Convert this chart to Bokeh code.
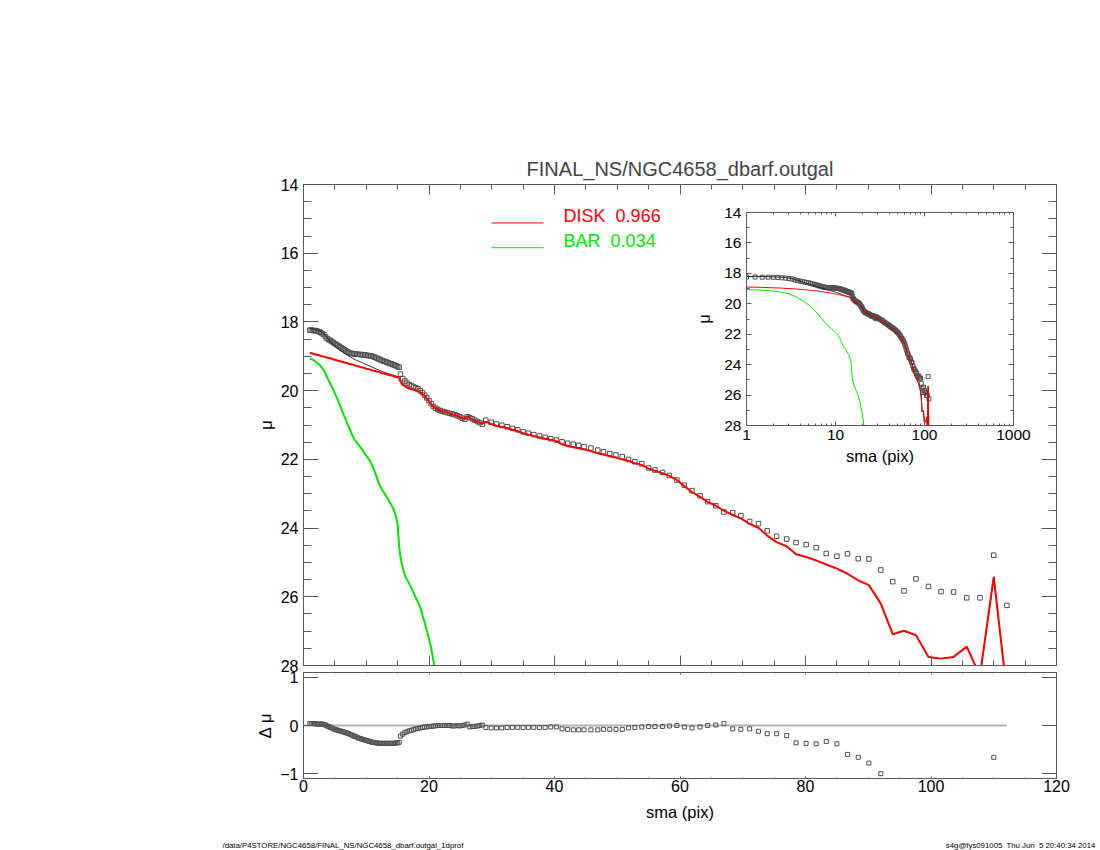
from bokeh.plotting import figure
from bokeh.models import (Range1d, LinearAxis, LogAxis, SingleIntervalTicker, FixedTicker,
                          LogTicker, PrintfTickFormatter, Label)
from bokeh.embed import file_html
from bokeh.resources import INLINE

# ---------------- data ----------------
NB = "\u00a0"  # keeps the double spacing of the original labels visible
TITLE = "FINAL_NS/NGC4658_dbarf.outgal"
FOOT_LEFT = "/data/P4STORE/NGC4658/FINAL_NS/NGC4658_dbarf.outgal_1dprof"
FOOT_RIGHT = "s4g@fys091005" + NB + " Thu Jun" + NB + " 5 20:40:34 2014"
DISK_LABEL = "DISK" + NB + " 0.966"
BAR_LABEL = "BAR" + NB + " 0.034"

sma_inner = [1.00, 1.25, 1.50, 1.75, 2.00, 2.25, 2.50, 2.75, 3.00, 3.25,
             3.50, 3.75, 4.00, 4.25, 4.50, 4.75, 5.00, 5.25, 5.50, 5.75,
             6.00, 6.25, 6.50, 6.75, 7.00, 7.25, 7.50, 7.75, 8.00, 8.25,
             8.50, 8.75, 9.00, 9.25, 9.50, 9.75, 10.00, 10.25, 10.50, 10.75,
             11.00, 11.25, 11.50, 11.75, 12.00, 12.25, 12.50, 12.75, 13.00, 13.25,
             13.50, 13.75, 14.00, 14.25, 14.50, 14.75, 15.00, 15.25]
sma_mid = [15.45, 15.80, 16.15, 16.50, 16.85, 17.20, 17.55, 17.90, 18.25, 18.60,
           18.95, 19.30, 19.65, 20.00, 20.35, 20.70, 21.05, 21.40,
           21.75, 22.10, 22.50, 22.90, 23.30, 23.70, 24.10, 24.50, 24.90, 25.30,
           25.70, 26.10, 26.50, 26.90, 27.30, 27.70, 28.10, 28.50]
sma_outer = [29.05, 29.90, 30.75, 31.60, 32.45, 33.30, 34.15, 35.00, 35.85, 36.70,
             37.60, 38.50, 39.40, 40.30, 41.20, 42.10, 43.00, 43.85,
             44.7, 45.8, 46.9, 47.8, 48.8, 49.8, 50.8, 51.8, 52.8, 53.9,
             55.0, 56.0, 57.2, 58.3, 59.5, 60.7, 61.9, 63.2, 64.4, 65.7,
             67.0, 68.4, 69.7, 71.1, 72.5, 73.9, 75.4, 77.0, 78.5, 80.1,
             81.7, 83.3, 85.0, 86.7, 88.4, 90.1, 92.0, 93.9, 95.7, 97.6,
             99.6, 101.6, 103.6, 105.7, 107.8, 110.0, 112.1]

mu_data = [18.24, 18.24, 18.25, 18.25, 18.26, 18.27, 18.29, 18.31, 18.34, 18.37,
           18.43, 18.48, 18.51, 18.54, 18.57, 18.60, 18.63, 18.66, 18.69, 18.72,
           18.75, 18.78, 18.81, 18.84, 18.87, 18.89, 18.91, 18.92, 18.93, 18.93,
           18.94, 18.94, 18.95, 18.95, 18.96, 18.96, 18.97, 18.98, 18.98, 18.99,
           19.00, 19.02, 19.04, 19.06, 19.08, 19.10, 19.12, 19.14, 19.15, 19.17,
           19.19, 19.21, 19.22, 19.24, 19.26, 19.28, 19.30, 19.32,
           19.52, 19.65, 19.72, 19.78, 19.83, 19.86, 19.89, 19.92, 19.95, 20.00,
           20.06, 20.13, 20.21, 20.29, 20.38, 20.46, 20.51, 20.55,
           20.58, 20.60, 20.62, 20.64, 20.66, 20.68, 20.70, 20.73, 20.76, 20.80,
           20.83, 20.76, 20.79, 20.82, 20.86, 20.90, 20.93, 20.98,
           20.86, 20.92, 20.97, 21.01, 21.05, 21.10, 21.14, 21.20, 21.24, 21.28,
           21.32, 21.36, 21.40, 21.44, 21.49, 21.53, 21.56, 21.59,
           21.63, 21.67, 21.73, 21.78, 21.83, 21.87, 21.92, 22.00, 22.07, 22.13,
           22.25, 22.31, 22.38, 22.47, 22.60, 22.75, 22.91, 23.06, 23.23, 23.35,
           23.53, 23.55, 23.64, 23.81, 23.87, 24.08, 24.24, 24.32, 24.42, 24.48,
           24.57, 24.74, 24.82, 24.75, 24.89, 24.90, 25.22, 25.56, 25.83, 25.48,
           25.70, 25.85, 25.86, 26.03, 26.03, 24.79, 26.25]

mu_disk = [18.90, 18.91, 18.92, 18.94, 18.95, 18.96, 18.97, 18.99, 19.00, 19.01,
           19.02, 19.04, 19.05, 19.06, 19.07, 19.09, 19.10, 19.11, 19.13, 19.14,
           19.15, 19.16, 19.18, 19.19, 19.20, 19.22, 19.23, 19.24, 19.25, 19.27,
           19.28, 19.29, 19.31, 19.32, 19.33, 19.34, 19.36, 19.37, 19.38, 19.40,
           19.41, 19.42, 19.43, 19.45, 19.46, 19.47, 19.49, 19.50, 19.51, 19.52,
           19.54, 19.55, 19.56, 19.57, 19.59, 19.60, 19.61, 19.64,
           19.74, 19.83, 19.87, 19.91, 19.94, 19.96, 19.97, 19.99, 20.01, 20.05,
           20.10, 20.16, 20.24, 20.31, 20.40, 20.47, 20.52, 20.55,
           20.58, 20.60, 20.62, 20.64, 20.66, 20.69, 20.71, 20.73, 20.77, 20.80,
           20.82, 20.75, 20.80, 20.84, 20.88, 20.91, 20.93, 20.97,
           20.90, 20.97, 21.02, 21.06, 21.09, 21.14, 21.18, 21.24, 21.28, 21.32,
           21.36, 21.40, 21.43, 21.47, 21.56, 21.61, 21.65, 21.68,
           21.71, 21.76, 21.82, 21.86, 21.91, 21.95, 22.00, 22.05, 22.11, 22.16,
           22.27, 22.33, 22.40, 22.48, 22.60, 22.78, 22.95, 23.09, 23.24, 23.35,
           23.49, 23.62, 23.72, 23.88, 23.99, 24.22, 24.41, 24.53, 24.76, 24.84,
           24.94, 25.06, 25.18, 25.33, 25.52, 25.66, 26.20, 27.09, 26.99, 27.12,
           27.75, 27.80, 27.75, 27.45, 28.30, 25.42, 28.80]

# bar component: only down to where it leaves the plot
mu_bar = [19.07, 19.08, 19.10, 19.13, 19.16, 19.20, 19.24, 19.29, 19.35, 19.42,
          19.50, 19.60, 19.70, 19.79, 19.88, 19.98, 20.08, 20.18, 20.29, 20.40,
          20.51, 20.63, 20.75, 20.86, 20.97, 21.07, 21.18, 21.29, 21.38, 21.45,
          21.51, 21.57, 21.63, 21.69, 21.76, 21.83, 21.89, 21.95, 22.02, 22.10,
          22.20, 22.31, 22.43, 22.56, 22.70, 22.80, 22.88, 22.95, 23.02, 23.10,
          23.17, 23.25, 23.33, 23.41, 23.52, 23.68, 23.90, 24.55,
          24.85, 25.15, 25.38, 25.50, 25.62, 25.74, 25.88, 26.03, 26.15, 26.30,
          26.52, 26.75, 26.98, 27.22, 27.50, 27.85, 28.20, 28.55]

# total model in the inner region (beyond it the total equals the disk)
mu_total_inner = [18.20, 18.20, 18.21, 18.22, 18.23, 18.24, 18.26, 18.28, 18.31, 18.35,
                  18.40, 18.46, 18.51, 18.56, 18.61, 18.66, 18.70, 18.74, 18.78, 18.82,
                  18.85, 18.88, 18.91, 18.94, 18.97, 19.00, 19.03, 19.05, 19.08, 19.10,
                  19.12, 19.14, 19.16, 19.18, 19.20, 19.22, 19.24, 19.26, 19.28, 19.30,
                  19.32, 19.34, 19.36, 19.38, 19.40, 19.42, 19.44, 19.46, 19.47, 19.49,
                  19.50, 19.52, 19.53, 19.55, 19.56, 19.58, 19.59, 19.62]

d_mu = [0.04, 0.04, 0.04, 0.04, 0.03, 0.03, 0.03, 0.03, 0.03, 0.02,
        0.01, -0.01, -0.02, -0.04, -0.05, -0.07, -0.08, -0.09, -0.10, -0.11,
        -0.12, -0.13, -0.14, -0.15, -0.16, -0.17, -0.19, -0.20, -0.22, -0.23,
        -0.24, -0.26, -0.27, -0.28, -0.29, -0.30, -0.31, -0.32, -0.33, -0.34,
        -0.35, -0.35, -0.36, -0.36, -0.37, -0.37, -0.37, -0.37, -0.37, -0.37,
        -0.37, -0.37, -0.37, -0.37, -0.37, -0.36, -0.36, -0.35,
        -0.22, -0.18, -0.15, -0.13, -0.11, -0.10, -0.08, -0.07, -0.06, -0.05,
        -0.04, -0.03, -0.03, -0.02, -0.02, -0.01, -0.01, 0.00,
        0.00, 0.00, 0.00, 0.00, 0.00, -0.01, -0.01, 0.00, -0.01, 0.00,
        0.01, 0.03, -0.03, -0.02, -0.02, -0.01, 0.00, 0.01,
        -0.04, -0.05, -0.05, -0.05, -0.04, -0.04, -0.04, -0.04, -0.04, -0.04,
        -0.04, -0.04, -0.03, -0.03, -0.07, -0.08, -0.09, -0.09,
        -0.09, -0.09, -0.09, -0.08, -0.08, -0.08, -0.08, -0.05, -0.04, -0.03,
        -0.02, -0.02, -0.02, -0.01, 0.00, -0.03, -0.05, -0.03, 0.00, 0.01,
        0.04, -0.07, -0.08, -0.07, -0.12, -0.17, -0.17, -0.21, -0.36, -0.37,
        -0.38, -0.33, -0.38, -0.60, -0.66, -0.78, -1.00, -1.53, -1.16, -1.64,
        -2.05, -1.95, -1.89, -1.42, -2.27, -0.66, -2.55]

sma = sma_inner + sma_mid + sma_outer
mu_total = mu_total_inner + mu_disk[len(mu_total_inner):]
sma_bar = sma[:len(mu_bar)]

# ---------------- styling ----------------
FONT = "Liberation Sans"
AXC = "#5a5a5a"
RED = "#ff0000"
GREEN = "#00e600"
PTC = "#505050"


def add_axis(fig, cls, side, ticker, major_in, minor_in, labels=True, fs="16px",
             standoff=5, label=None, label_fs="16px", label_standoff=5, formatter=None):
    kw = dict(ticker=ticker)
    if formatter is not None:
        kw["formatter"] = formatter
    ax = cls(**kw)
    ax.axis_line_color = AXC
    ax.major_tick_line_color = AXC
    ax.minor_tick_line_color = AXC
    ax.major_tick_in = major_in
    ax.major_tick_out = 0
    ax.minor_tick_in = minor_in
    ax.minor_tick_out = 0
    ax.major_label_text_font = FONT
    ax.major_label_text_font_size = fs
    ax.major_label_standoff = standoff
    if labels:
        ax.major_label_text_color = "black"
    else:
        ax.major_label_text_color = None
        ax.major_label_standoff = 0
    if label:
        ax.axis_label = label
        ax.axis_label_text_font = FONT
        ax.axis_label_text_font_size = label_fs
        ax.axis_label_text_font_style = "normal"
        ax.axis_label_text_color = "black"
        ax.axis_label_standoff = label_standoff
    fig.add_layout(ax, side)
    return ax


def no_grid(fig):
    for g in fig.grid:
        g.visible = False


def place(fig, left, top):
    fig.styles = {"position": "absolute", "left": f"{left}px", "top": f"{top}px"}


# ---------------- main panel ----------------
main = figure(title=TITLE, x_range=Range1d(0, 120), y_range=Range1d(28, 14),
              frame_width=753, frame_height=481,
              min_border_left=303, min_border_right=36, min_border_top=184, min_border_bottom=12,
              x_axis_location=None, y_axis_location=None,
              output_backend="svg", toolbar_location=None, outline_line_color=AXC,
              border_fill_alpha=0)
place(main, 0, 0)
no_grid(main)
main.title.text_font = FONT
main.title.text_font_size = "20px"
main.title.text_font_style = "normal"
main.title.align = "center"
main.title.standoff = 9

add_axis(main, LinearAxis, "left", SingleIntervalTicker(interval=2, num_minor_ticks=4), 15, 8,
         fs="16px", standoff=5, label="μ", label_fs="17px", label_standoff=2)
add_axis(main, LinearAxis, "right", SingleIntervalTicker(interval=2, num_minor_ticks=4), 15, 8,
         labels=False)
add_axis(main, LinearAxis, "below", SingleIntervalTicker(interval=20, num_minor_ticks=4), 10, 5,
         labels=False)
add_axis(main, LinearAxis, "above", SingleIntervalTicker(interval=20, num_minor_ticks=4), 10, 5,
         labels=False)

main.scatter(sma, mu_data, marker="square", size=4.5, fill_color=None,
             line_color=PTC, line_width=1)
main.line(sma, mu_total, line_color="#222222", line_width=1)
main.line(sma_bar, mu_bar, line_color=GREEN, line_width=2)
main.line(sma, mu_disk, line_color=RED, line_width=2)

# legend keys (thin sample lines) and coloured labels, as in the reference
main.line([29.96, 38.25], [15.12, 15.12], line_color=RED, line_width=1)
main.line([29.96, 38.25], [15.84, 15.84], line_color=GREEN, line_width=1)
main.add_layout(Label(x=41.45, y=14.93, text=DISK_LABEL, text_font=FONT, text_font_size="18px",
                      text_color=RED, text_baseline="middle", text_align="left"))
main.add_layout(Label(x=41.45, y=15.64, text=BAR_LABEL, text_font=FONT, text_font_size="18px",
                      text_color=GREEN, text_baseline="middle", text_align="left"))

# ---------------- residual panel ----------------
resid = figure(x_range=Range1d(0, 120), y_range=Range1d(-1.1, 1.1),
               frame_width=753, frame_height=106,
               min_border_left=303, min_border_right=36, min_border_top=6, min_border_bottom=62,
               x_axis_location=None, y_axis_location=None,
               output_backend="svg", toolbar_location=None, outline_line_color=AXC,
               border_fill_alpha=0)
place(resid, 0, 666)
no_grid(resid)
add_axis(resid, LinearAxis, "left", FixedTicker(ticks=[-1, 0, 1], minor_ticks=[]), 15, 0,
         fs="16px", standoff=5, label="Δ μ", label_fs="17px", label_standoff=2)
add_axis(resid, LinearAxis, "right", FixedTicker(ticks=[-1, 0, 1], minor_ticks=[]), 15, 0,
         labels=False)
add_axis(resid, LinearAxis, "below", SingleIntervalTicker(interval=20, num_minor_ticks=4), 2, 1,
         fs="16px", standoff=1, label="sma (pix)", label_fs="16.5px", label_standoff=8)
add_axis(resid, LinearAxis, "above", SingleIntervalTicker(interval=20, num_minor_ticks=4), 2, 1,
         labels=False)

resid.segment(x0=[0], y0=[0], x1=[max(sma)], y1=[0], line_color="#b4b4b4", line_width=2)
resid.scatter(sma, d_mu, marker="square", size=4, fill_color=None,
              line_color=PTC, line_width=1)

# ---------------- footer strip (page-wide text line) ----------------
foot = figure(x_range=Range1d(0, 1098), y_range=Range1d(0, 14),
              frame_width=1098, frame_height=14, min_border=0,
              x_axis_location=None, y_axis_location=None,
              output_backend="svg", toolbar_location=None, outline_line_color=None,
              background_fill_alpha=0, border_fill_alpha=0)
place(foot, 0, 836)
no_grid(foot)
foot.add_layout(Label(x=222, y=5, text=FOOT_LEFT, text_font=FONT,
                      text_font_size="7.8px", text_baseline="middle", text_align="left",
                      text_color="black"))
foot.add_layout(Label(x=1095, y=5, text=FOOT_RIGHT, text_font=FONT,
                      text_font_size="7.8px", text_baseline="middle", text_align="right",
                      text_color="black"))

# ---------------- inset (log sma) ----------------
inset = figure(x_axis_type="log", x_range=Range1d(1, 1000), y_range=Range1d(28, 14),
               frame_width=267, frame_height=213,
               min_border_left=52, min_border_right=24, min_border_top=8, min_border_bottom=50,
               x_axis_location=None, y_axis_location=None,
               output_backend="svg", toolbar_location=None, outline_line_color=AXC,
               background_fill_alpha=0, border_fill_alpha=0)
place(inset, 693, 204)
no_grid(inset)
add_axis(inset, LinearAxis, "left", SingleIntervalTicker(interval=2, num_minor_ticks=2), 5, 3,
         fs="15.5px", standoff=5, label="μ", label_fs="16px", label_standoff=8)
add_axis(inset, LinearAxis, "right", SingleIntervalTicker(interval=2, num_minor_ticks=2), 5, 3,
         labels=False)
add_axis(inset, LogAxis, "below", LogTicker(mantissas=[1], num_minor_ticks=10), 4, 2,
         fs="15.5px", standoff=4, label="sma (pix)", label_fs="16.5px", label_standoff=4,
         formatter=PrintfTickFormatter(format="%d"))
add_axis(inset, LogAxis, "above", LogTicker(mantissas=[1], num_minor_ticks=10), 4, 2,
         labels=False)

inset.scatter(sma, mu_data, marker="square", size=4, fill_color=None,
              line_color=PTC, line_width=1)
inset.line(sma, mu_total, line_color="#222222", line_width=1)
inset.line(sma_bar, mu_bar, line_color=GREEN, line_width=1)
inset.line(sma, mu_disk, line_color=RED, line_width=1)

open("out.html", "w").write(file_html([main, resid, inset, foot], INLINE,
                                      title="NGC4658 1D profile"))
